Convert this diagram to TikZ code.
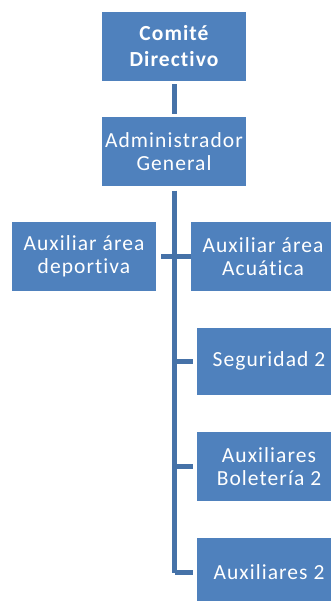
\documentclass[tikz,border=0pt]{standalone}
\usepackage{fontspec}
\setmainfont{Carlito}[LetterSpace=5, Ligatures={NoCommon}]
\definecolor{boxblue}{HTML}{4F81BD}
\definecolor{lineblue}{HTML}{4672A8}
\tikzset{
  orgbox/.style={rectangle, fill=boxblue, text=white, minimum width=144pt,
    minimum height=69pt, inner sep=0pt, align=center,
    font=\fontsize{21.5}{23}\selectfont},
  link/.style={draw=lineblue, line width=5pt}
}
\begin{document}
\begin{tikzpicture}[x=1pt,y=-1pt]
\clip (0,0) rectangle (331,601);
\fill[white] (0,0) rectangle (331,601);
\node[orgbox, font=\fontsize{21.5}{26}\selectfont\bfseries] (comite) at (174,46.5) {Comité\\Directivo};
\node[orgbox] (admin) at (174,152) {Administrador\\General};
\node[orgbox] (deport) at (84,256.5) {Auxiliar área\\deportiva};
\node[orgbox] (acua) at (263,256.5) {Auxiliar área\\Acuática};
\node[orgbox, minimum height=67pt] (seg) at (269,361) {Seguridad 2};
\node[orgbox] (bol) at (269,466.5) {Auxiliares\\Boletería 2};
\node[orgbox] (aux) at (269,572.5) {Auxiliares 2};
\coordinate (trunkend) at (174.5,572.5);
\draw[link, shorten <=3pt, shorten >=3pt] (comite.south -| 174.5,0) -- (admin.north -| 174.5,0);
\draw[link, shorten <=4pt] (admin.south -| 174.5,0) -- (trunkend);
\draw[link, shorten >=4pt] (trunkend) -- (aux.west);
\draw[link, shorten <=5pt] (deport.east) -- (acua.west);
\draw[link, shorten >=4pt] (seg.west -| trunkend) -- (seg.west);
\draw[link, shorten >=4pt] (bol.west -| trunkend) -- (bol.west);
\end{tikzpicture}
\end{document}
